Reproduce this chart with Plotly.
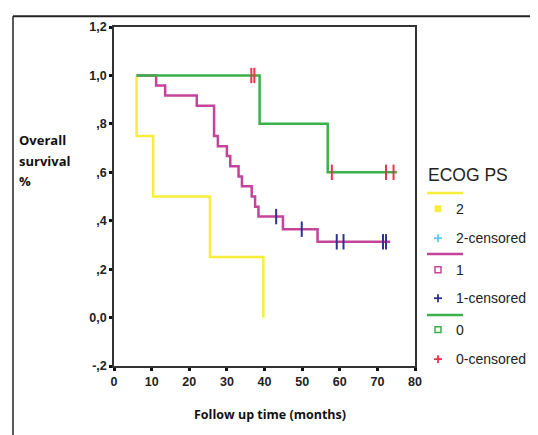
import plotly.graph_objects as go

# ---- data ----
# ECOG PS 2
g2_time = [6, 6, 10.4, 25.5, 39.7]
g2_surv = [1.0, 0.75, 0.5, 0.25, 0.0]

# ECOG PS 1
g1_time = [6, 11.2, 13.6, 22.0, 26.6, 27.6, 30.0, 30.9, 33.1, 34.0, 36.6, 37.5, 38.4, 44.9, 54.1, 73.4]
g1_surv = [1.0, 0.958, 0.917, 0.875, 0.75, 0.708, 0.667, 0.625, 0.583, 0.542, 0.5, 0.458, 0.417, 0.365, 0.313, 0.313]
g1_cens = [43.1, 49.9, 59.2, 61.0, 71.5, 72.3]

# ECOG PS 0
g0_time = [6, 38.7, 56.8, 75.2]
g0_surv = [1.0, 0.8, 0.6, 0.6]
g0_cens = [36.5, 37.3, 57.9, 72.3, 74.3]

y_ticks = [1.2, 1.0, 0.8, 0.6, 0.4, 0.2, 0.0, -0.2]
y_labels = ["1,2", "1,0", ",8", ",6", ",4", ",2", "0,0", "-,2"]
x_ticks = [0, 10, 20, 30, 40, 50, 60, 70, 80]

legend_title = "ECOG PS"
legend_labels = ["2", "2-censored", "1", "1-censored", "0", "0-censored"]
y_title_lines = ["Overall", "survival", "%"]
x_title = "Follow up time (months)"

YELLOW = "#F7EE3A"
MAGENTA = "#C4449C"
GREEN = "#3DB04A"
BLUE = "#2E3192"
RED = "#E8344E"
CYAN = "#5EC8F0"


def step_value(times, survs, t):
    v = survs[0]
    for ti, si in zip(times, survs):
        if ti <= t:
            v = si
    return v


fig = go.Figure()

fig.add_trace(go.Scatter(x=g2_time, y=g2_surv, mode="lines", line=dict(color=YELLOW, width=2.5, shape="hv"), showlegend=False))
fig.add_trace(go.Scatter(x=g1_time, y=g1_surv, mode="lines", line=dict(color=MAGENTA, width=2.5, shape="hv"), showlegend=False))
fig.add_trace(go.Scatter(x=g0_time, y=g0_surv, mode="lines", line=dict(color=GREEN, width=2.5, shape="hv"), showlegend=False))

fig.add_trace(go.Scatter(x=g1_cens, y=[step_value(g1_time, g1_surv, t) for t in g1_cens], mode="markers",
                         marker=dict(symbol="line-ns", size=11, line=dict(color=BLUE, width=2)), showlegend=False))
fig.add_trace(go.Scatter(x=g0_cens, y=[step_value(g0_time, g0_surv, t) for t in g0_cens], mode="markers",
                         marker=dict(symbol="line-ns", size=11, line=dict(color=RED, width=2)), showlegend=False))

# page body has an 8px margin; positions below are reference pixels
OFF = 8
W, H = 538, 435
L, R, T, B = 114 - OFF, 415 - OFF, 21 - OFF, 366 - OFF


def px(x):
    return (x - OFF - L) / (R - L)


def py(y):
    return (B - (y - OFF)) / (B - T)


shapes = [
    # outer frame (top and left)
    dict(type="line", xref="paper", yref="paper", x0=px(13), x1=px(560), y0=py(10), y1=py(10), line=dict(color="#222", width=2)),
    dict(type="line", xref="paper", yref="paper", x0=px(13), x1=px(13), y0=py(10), y1=py(460), line=dict(color="#222", width=1.5)),
]

# legend
leg_x_line0, leg_x_line1 = 427, 463
leg_marker_x = 438
leg_text_x = 454
rows = [
    ("line", YELLOW, 190), ("sq_fill", YELLOW, 206), ("plus", CYAN, 236),
    ("line", MAGENTA, 252), ("sq", MAGENTA, 268), ("plus", BLUE, 297),
    ("line", GREEN, 314), ("sq", GREEN, 329), ("plus", RED, 359),
]
annotations = [
    dict(text=legend_title, xref="paper", yref="paper", x=px(426), y=py(172), xanchor="left", yanchor="middle",
         showarrow=False, font=dict(family="Liberation Sans", size=17.5, color="#222")),
]
label_iter = iter(legend_labels)
for kind, col, yy in rows:
    if kind == "line":
        shapes.append(dict(type="line", xref="paper", yref="paper", x0=px(leg_x_line0), x1=px(leg_x_line1),
                           y0=py(yy), y1=py(yy), line=dict(color=col, width=2.5)))
        continue
    if kind == "sq_fill":
        shapes.append(dict(type="rect", xref="paper", yref="paper", x0=px(leg_marker_x - 3), x1=px(leg_marker_x + 3),
                           y0=py(yy + 3), y1=py(yy - 3), fillcolor=col, line=dict(color=col, width=1)))
    elif kind == "sq":
        shapes.append(dict(type="rect", xref="paper", yref="paper", x0=px(leg_marker_x - 3), x1=px(leg_marker_x + 3),
                           y0=py(yy + 3), y1=py(yy - 3), fillcolor="white", line=dict(color=col, width=1.5)))
    else:
        shapes.append(dict(type="line", xref="paper", yref="paper", x0=px(leg_marker_x - 4), x1=px(leg_marker_x + 4),
                           y0=py(yy), y1=py(yy), line=dict(color=col, width=1.8)))
        shapes.append(dict(type="line", xref="paper", yref="paper", x0=px(leg_marker_x), x1=px(leg_marker_x),
                           y0=py(yy + 4), y1=py(yy - 4), line=dict(color=col, width=1.8)))
    annotations.append(dict(text=next(label_iter), xref="paper", yref="paper", x=px(leg_text_x), y=py(yy),
                            xanchor="left", yanchor="middle", showarrow=False,
                            font=dict(family="Liberation Sans", size=14, color="#222")))

# y-axis title in white box
shapes.append(dict(type="rect", xref="paper", yref="paper", x0=px(15), x1=px(84), y0=py(126), y1=py(188),
                   fillcolor="white", line=dict(width=0), layer="above"))
for txt, yy in zip(y_title_lines, [136, 157, 178]):
    annotations.append(dict(text="<b>" + txt + "</b>", xref="paper", yref="paper", x=px(17), y=py(yy),
                            xanchor="left", yanchor="middle", align="left", showarrow=False,
                            font=dict(family="Open Sans", size=13, color="#111")))
# x-axis title
annotations.append(dict(text="<b>" + x_title + "</b>", xref="paper", yref="paper", x=px(270), y=py(415),
                        xanchor="center", yanchor="middle", showarrow=False,
                        font=dict(family="Open Sans", size=12.5, color="#111")))

fig.update_layout(
    width=W, height=H,
    margin=dict(l=L, r=W - R, t=T, b=H - B),
    paper_bgcolor="white", plot_bgcolor="white",
    shapes=shapes, annotations=annotations,
    showlegend=False,
    xaxis=dict(range=[0, 80], tickvals=x_ticks, ticktext=[str(v) for v in x_ticks],
               showgrid=False, zeroline=False, showline=True, linecolor="#333", linewidth=1.5, mirror=True,
               ticks="outside", ticklen=3, tickwidth=3, tickcolor="#111",
               tickfont=dict(family="Liberation Sans", size=12.5, color="#222", weight="bold")),
    yaxis=dict(range=[-0.2, 1.2], tickvals=y_ticks, ticktext=y_labels,
               showgrid=False, zeroline=False, showline=True, linecolor="#333", linewidth=1.5, mirror=True,
               ticks="outside", ticklen=3, tickwidth=3, tickcolor="#111",
               tickfont=dict(family="Liberation Sans", size=12.5, color="#222", weight="bold")),
)

fig.write_html("out.html")
